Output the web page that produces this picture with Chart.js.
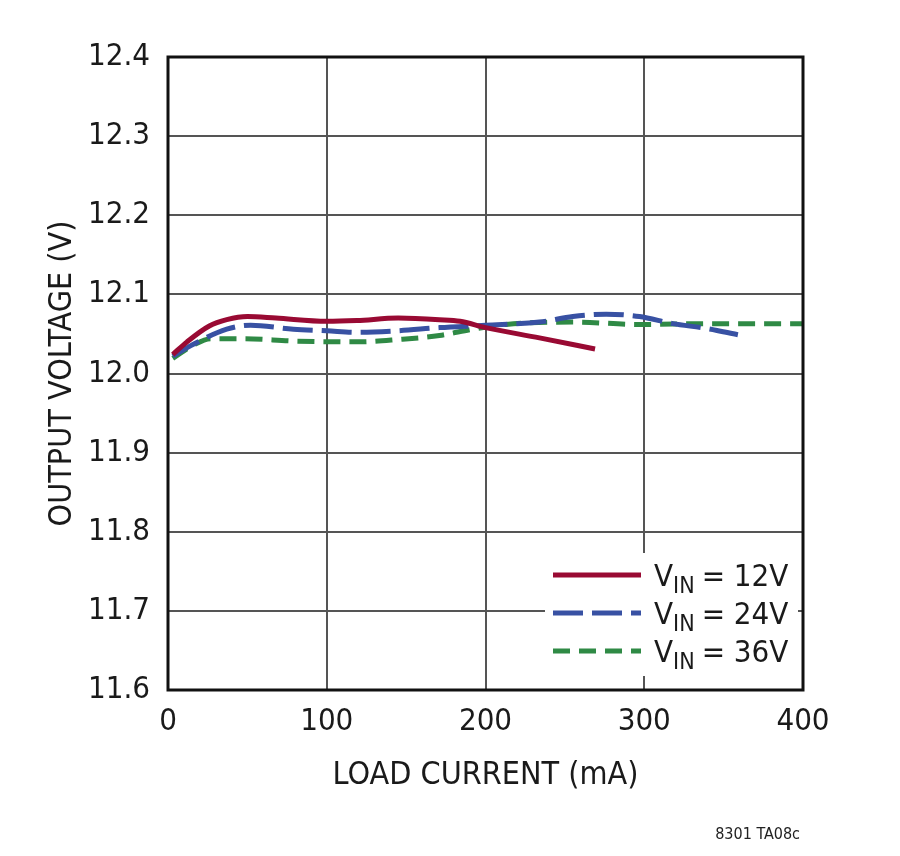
<!DOCTYPE html>
<html>
<head>
<meta charset="utf-8">
<style>
  html, body { margin: 0; padding: 0; background: #fff; }
  #chart { display: block; }
</style>
<script src="https://cdn.jsdelivr.net/npm/chart.js@4.4.1/dist/chart.umd.min.js"></script>
</head>
<body>
<canvas id="chart" width="900" height="856"></canvas>
<script>
// values
const current12 = [3, 12, 26, 37, 50, 68, 100, 119, 145, 171, 184, 200, 234, 269];
const volts12   = [12.024, 12.040, 12.060, 12.068, 12.072, 12.070, 12.066, 12.067, 12.070, 12.068, 12.066, 12.058, 12.045, 12.031];

const current24 = [3, 16, 37, 52, 79, 100, 119, 145, 171, 200, 234, 255, 276, 297, 318, 339, 359];
const volts24   = [12.022, 12.037, 12.056, 12.061, 12.056, 12.054, 12.052, 12.054, 12.058, 12.061, 12.065, 12.072, 12.075, 12.072, 12.063, 12.057, 12.049];

const current36 = [3, 16, 27, 48, 79, 119, 145, 171, 192, 213, 255, 297, 339, 400];
const volts36   = [12.019, 12.036, 12.044, 12.044, 12.041, 12.040, 12.043, 12.048, 12.056, 12.062, 12.065, 12.062, 12.063, 12.063];

const seriesLabels = ['12V', '24V', '36V'];
const xTicks = [0, 100, 200, 300, 400];
const yTicks = [11.6, 11.7, 11.8, 11.9, 12.0, 12.1, 12.2, 12.3, 12.4];

const FONT = '"Liberation Sans Narrow", "DejaVu Sans Condensed", Arial, sans-serif';

function points(xs, ys) {
  return xs.map((x, i) => ({ x: x, y: ys[i] }));
}

// white box behind the legend, drawn over the grid
const legendBox = {
  id: 'legendBox',
  beforeDatasetsDraw(chart) {
    const ctx = chart.ctx;
    ctx.save();
    ctx.fillStyle = '#fff';
    ctx.fillRect(545, 553, 253, 123);
    ctx.restore();
  },
  afterDraw(chart) {
    const ctx = chart.ctx;
    const a = chart.chartArea;
    ctx.save();
    // frame
    ctx.strokeStyle = '#111';
    ctx.lineWidth = 3;
    ctx.strokeRect(a.left, a.top, a.right - a.left, a.bottom - a.top);

    // legend with subscript
    const rows = [575, 613, 651];
    chart.data.datasets.forEach((ds, i) => {
      const y = rows[i];
      ctx.strokeStyle = ds.borderColor;
      ctx.lineWidth = ds.borderWidth;
      ctx.setLineDash(ds.borderDash || []);
      ctx.beginPath();
      ctx.moveTo(553, y);
      ctx.lineTo(641, y);
      ctx.stroke();
      ctx.setLineDash([]);

      ctx.fillStyle = '#1a1a1a';
      ctx.textBaseline = 'alphabetic';
      ctx.textAlign = 'left';
      let x = 654;
      ctx.font = '31px ' + FONT;
      ctx.fillText('V', x, y + 11);
      x += ctx.measureText('V').width;
      ctx.font = '23px ' + FONT;
      ctx.fillText('IN', x, y + 18);
      x += ctx.measureText('IN').width + 7;
      ctx.font = '31px ' + FONT;
      ctx.fillText('= ' + seriesLabels[i], x, y + 11);
    });

    // figure code
    ctx.font = '16px ' + FONT;
    ctx.textAlign = 'right';
    ctx.fillStyle = '#222';
    ctx.fillText('8301 TA08c', 800, 839);
    ctx.restore();
  }
};

new Chart(document.getElementById('chart'), {
  type: 'line',
  data: {
    datasets: [{
      label: 'VIN = ' + seriesLabels[0],
      data: points(current12, volts12),
      borderColor: '#990a33',
      borderWidth: 5,
      pointRadius: 0,
      cubicInterpolationMode: 'monotone'
    }, {
      label: 'VIN = ' + seriesLabels[1],
      data: points(current24, volts24),
      borderColor: '#3851a3',
      borderWidth: 5,
      borderDash: [30, 9],
      pointRadius: 0,
      cubicInterpolationMode: 'monotone'
    }, {
      label: 'VIN = ' + seriesLabels[2],
      data: points(current36, volts36),
      borderColor: '#2f8a45',
      borderWidth: 5,
      borderDash: [17, 9],
      pointRadius: 0,
      cubicInterpolationMode: 'monotone'
    }]
  },
  options: {
    responsive: false,
    animation: false,
    devicePixelRatio: 1,
    layout: { padding: { top: 57, right: 97, left: 39, bottom: 56 } },
    plugins: {
      legend: { display: false },
      tooltip: { enabled: false }
    },
    scales: {
      x: {
        type: 'linear',
        min: 0,
        max: 400,
        afterBuildTicks: s => { s.ticks = xTicks.map(v => ({ value: v })); },
        afterFit: s => { s.height = 110; },
        grid: { color: '#555', lineWidth: 2, drawTicks: false },
        border: { display: false },
        ticks: {
          padding: 13,
          color: '#1a1a1a',
          font: { family: FONT, size: 31 },
          maxRotation: 0
        },
        title: {
          display: true,
          text: 'LOAD CURRENT (mA)',
          color: '#1a1a1a',
          font: { family: FONT, size: 32 },
          padding: { top: 0, bottom: 5 }
        }
      },
      y: {
        min: 11.6,
        max: 12.4,
        afterBuildTicks: s => { s.ticks = yTicks.map(v => ({ value: v })); },
        afterFit: s => { s.width = 129; },
        grid: { color: '#555', lineWidth: 2, drawTicks: false },
        border: { display: false },
        ticks: {
          padding: 18,
          color: '#1a1a1a',
          font: { family: FONT, size: 31 },
          callback: v => v.toFixed(1)
        },
        title: {
          display: true,
          text: 'OUTPUT VOLTAGE (V)',
          color: '#1a1a1a',
          font: { family: FONT, size: 32 },
          padding: { top: 4, bottom: 0 }
        }
      }
    }
  },
  plugins: [legendBox]
});
</script>
</body>
</html>
